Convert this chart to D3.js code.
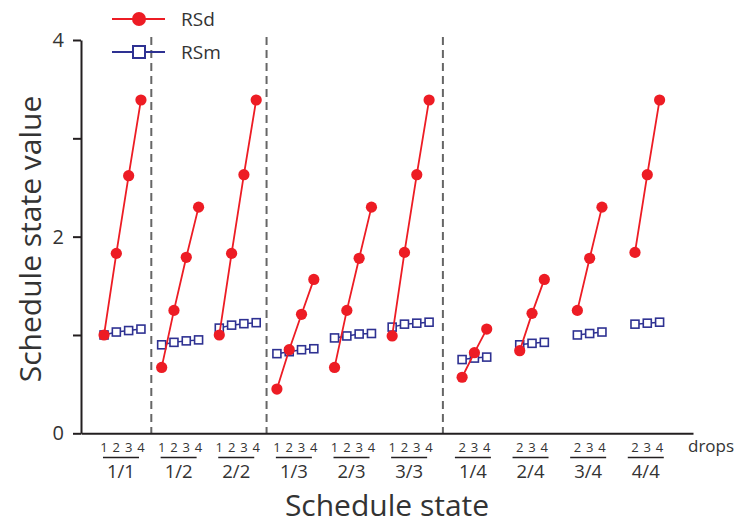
<!DOCTYPE html>
<html>
<head>
<meta charset="utf-8">
<script src="https://cdn.jsdelivr.net/npm/d3@7"></script>
<style>
  html, body { margin: 0; padding: 0; background: #fff; }
  svg { display: block; font-family: "Open Sans", "Noto Sans", sans-serif; }
</style>
</head>
<body>
<svg id="chart" width="740" height="525"></svg>
<script>
// ---- data ----
const groups = ["1/1", "1/2", "2/2", "1/3", "2/3", "3/3", "1/4", "2/4", "3/4", "4/4"];
const dropsPerGroup = [
  [1, 2, 3, 4], [1, 2, 3, 4], [1, 2, 3, 4], [1, 2, 3, 4], [1, 2, 3, 4], [1, 2, 3, 4],
  [2, 3, 4], [2, 3, 4], [2, 3, 4], [2, 3, 4]
];
const rsdValues = [
  [1.00, 1.83, 2.62, 3.39],
  [0.67, 1.25, 1.79, 2.30],
  [1.00, 1.83, 2.63, 3.39],
  [0.45, 0.85, 1.21, 1.565],
  [0.67, 1.25, 1.78, 2.30],
  [0.99, 1.84, 2.63, 3.39],
  [0.57, 0.82, 1.06],
  [0.84, 1.22, 1.565],
  [1.25, 1.78, 2.30],
  [1.84, 2.63, 3.39]
];
const rsmValues = [
  [1.00, 1.03, 1.045, 1.06],
  [0.90, 0.925, 0.94, 0.95],
  [1.07, 1.10, 1.115, 1.125],
  [0.81, 0.83, 0.85, 0.86],
  [0.97, 0.99, 1.01, 1.015],
  [1.08, 1.11, 1.12, 1.13],
  [0.75, 0.765, 0.775],
  [0.90, 0.915, 0.925],
  [1.00, 1.015, 1.03],
  [1.11, 1.12, 1.13]
];
const separators = [0.5, 2.5, 5.56];
const yTickValues = [0, 1, 2, 3, 4];
const yTickLabels = ["0", "", "2", "", "4"];
const seriesNames = ["RSd", "RSm"];

// ---- styles / layout ----
const RED = "#ed1c24";
const BLUE = "#2e3192";
const INK = "#231f20";
const DROP_STEP = 0.2135; // in group units

const svg = d3.select("#chart");
const x = d3.scaleLinear().domain([-0.72, 9.9]).range([81, 693]);
const y = d3.scaleLinear().domain([0, 4]).range([433.3, 40]);

const px = (g, d) => x(g + (d - 2.5) * DROP_STEP);

// separators
svg.append("g").selectAll("line").data(separators).join("line")
  .attr("x1", d => x(d)).attr("x2", d => x(d))
  .attr("y1", y(4.03)).attr("y2", y(0))
  .attr("stroke", "#666").attr("stroke-width", 2)
  .attr("stroke-dasharray", "8,5");

// axes
const yAxis = d3.axisLeft(y).tickValues(yTickValues)
  .tickFormat((d, i) => yTickLabels[i]).tickSize(8).tickSizeOuter(0).tickPadding(9);
const gy = svg.append("g").attr("transform", `translate(${x(-0.72)},0)`).call(yAxis);
gy.select(".domain").attr("stroke", INK).attr("stroke-width", 2);
gy.selectAll(".tick line").attr("stroke", INK).attr("stroke-width", 2);
gy.selectAll(".tick text").attr("font-size", 20).attr("fill", "#333")
  .attr("font-family", "Open Sans, sans-serif");

const xAxis = d3.axisBottom(x).tickValues([]).tickSizeOuter(0);
const gx = svg.append("g").attr("transform", `translate(0,${y(0)})`).call(xAxis);
gx.select(".domain").attr("stroke", INK).attr("stroke-width", 2);

// series
const line = d3.line().x(d => d.x).y(d => d.y);
groups.forEach((gName, g) => {
  const drops = dropsPerGroup[g];
  const mPts = drops.map((d, i) => ({ x: px(g, d), y: y(rsmValues[g][i]) }));
  const dPts = drops.map((d, i) => ({ x: px(g, d), y: y(rsdValues[g][i]) }));

  svg.append("path").attr("d", line(mPts)).attr("fill", "none")
    .attr("stroke", BLUE).attr("stroke-width", 1.5);
  svg.append("g").selectAll("rect").data(mPts).join("rect")
    .attr("x", d => d.x - 4).attr("y", d => d.y - 4)
    .attr("width", 8).attr("height", 8)
    .attr("fill", "#fff").attr("stroke", BLUE).attr("stroke-width", 1.6);

  svg.append("path").attr("d", line(dPts)).attr("fill", "none")
    .attr("stroke", RED).attr("stroke-width", 1.8);
  svg.append("g").selectAll("circle").data(dPts).join("circle")
    .attr("cx", d => d.x).attr("cy", d => d.y).attr("r", 5.6)
    .attr("fill", RED);

  // drop labels
  svg.append("g").selectAll("text").data(drops).join("text")
    .attr("x", d => px(g, d)).attr("y", 452)
    .attr("text-anchor", "middle").attr("font-size", 13).attr("fill", "#333")
    .text(d => d);

  const cx = (px(g, drops[0]) + px(g, drops[drops.length - 1])) / 2 - 1.5;
  svg.append("line").attr("x1", cx - 18).attr("x2", cx + 18)
    .attr("y1", 457.5).attr("y2", 457.5).attr("stroke", INK).attr("stroke-width", 1.5);
  svg.append("text").attr("x", cx).attr("y", 478)
    .attr("text-anchor", "middle").attr("font-size", 18.5).attr("fill", "#333")
    .text(gName);
});

svg.append("text").attr("x", 688).attr("y", 452)
  .attr("font-size", 17).attr("fill", "#333").text("drops");

// axis titles
svg.append("text").attr("x", 387).attr("y", 516)
  .attr("text-anchor", "middle").attr("font-size", 30).attr("fill", "#333")
  .text("Schedule state");
svg.append("text").attr("transform", "translate(41,239) rotate(-90)")
  .attr("text-anchor", "middle").attr("font-size", 30).attr("fill", "#333")
  .text("Schedule state value");

// legend
const legend = svg.append("g");
const legendY = [19, 52];
seriesNames.forEach((name, i) => {
  const gy0 = legendY[i];
  legend.append("line").attr("x1", 112).attr("x2", 165).attr("y1", gy0).attr("y2", gy0)
    .attr("stroke", i === 0 ? RED : BLUE).attr("stroke-width", 2);
  if (i === 0) {
    legend.append("circle").attr("cx", 139).attr("cy", gy0).attr("r", 7).attr("fill", RED);
  } else {
    legend.append("rect").attr("x", 133).attr("y", gy0 - 6).attr("width", 12).attr("height", 12)
      .attr("fill", "#fff").attr("stroke", BLUE).attr("stroke-width", 2);
  }
  legend.append("text").attr("x", 181).attr("y", gy0 + 7)
    .attr("font-size", 19).attr("fill", "#333").text(name);
});
</script>
</body>
</html>
